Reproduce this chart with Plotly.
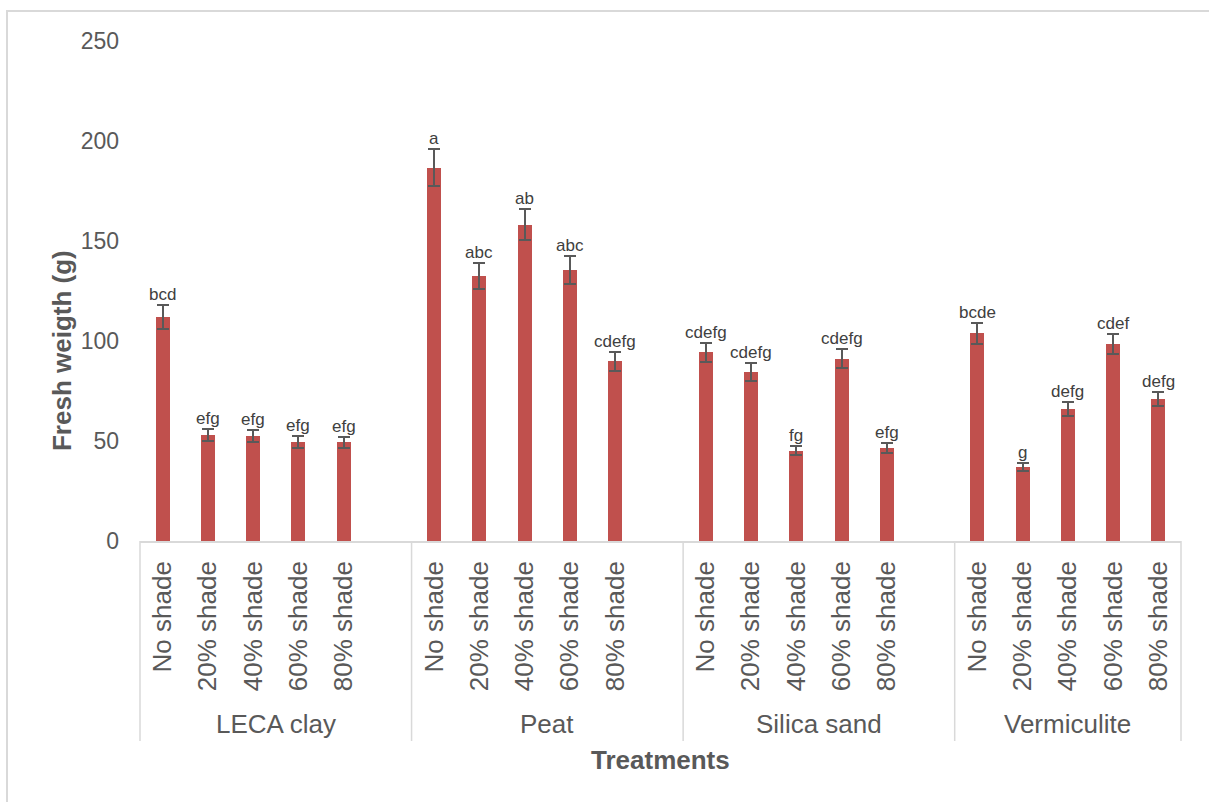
import plotly.graph_objects as go

# Substrates and shade levels
substrates = ["LECA clay", "Peat", "Silica sand", "Vermiculite"]
shades = ["No shade", "20% shade", "40% shade", "60% shade", "80% shade"]

# Mean fresh weight (g) per substrate, in shade order
leca_mean = [112.2, 52.8, 52.3, 49.5, 49.3]
peat_mean = [186.7, 132.5, 158.2, 135.5, 89.8]
silica_mean = [94.3, 84.5, 45.2, 91.2, 46.5]
verm_mean = [103.8, 37.0, 66.0, 98.5, 71.0]

# Standard errors
leca_err = [6.0, 3.0, 3.0, 2.8, 2.7]
peat_err = [9.3, 6.7, 7.8, 6.9, 4.8]
silica_err = [4.8, 4.4, 2.4, 4.8, 2.6]
verm_err = [5.3, 1.9, 3.4, 5.0, 3.6]

# Mean separation letters
leca_letters = ["bcd", "efg", "efg", "efg", "efg"]
peat_letters = ["a", "abc", "ab", "abc", "cdefg"]
silica_letters = ["cdefg", "cdefg", "fg", "cdefg", "efg"]
verm_letters = ["bcde", "g", "defg", "cdef", "defg"]

means = [leca_mean, peat_mean, silica_mean, verm_mean]
errs = [leca_err, peat_err, silica_err, verm_err]
letters = [leca_letters, peat_letters, silica_letters, verm_letters]

BAR = "#C0504D"
TXT = "#595959"
GRID = "#D9D9D9"
FONT = "Liberation Sans, Arial, sans-serif"

# Each substrate takes 6 slots (5 bars + an empty spacer), the last group has no spacer
SLOT = 6
xs, ys, es, labs, ticks_x, ticks_t = [], [], [], [], [], []
for g in range(len(substrates)):
    for s in range(len(shades)):
        x = g * SLOT + s
        xs.append(x)
        ys.append(means[g][s])
        es.append(errs[g][s])
        labs.append(letters[g][s])
        ticks_x.append(x)
        ticks_t.append(shades[s])

n_slots = SLOT * (len(substrates) - 1) + len(shades)
x_lo, x_hi = -0.5, n_slots - 0.5

fig = go.Figure()
fig.add_trace(go.Bar(
    x=xs, y=ys, width=0.31,
    marker=dict(color=BAR, line=dict(width=0)),
    error_y=dict(type="data", array=es, visible=True, color=TXT, thickness=2, width=6),
    showlegend=False, hoverinfo="y",
))

# Letters above the error bars
for x, y, e, t in zip(xs, ys, es, labs):
    fig.add_annotation(x=x, y=y + e, text=t, showarrow=False, yanchor="bottom",
                       xanchor="center", yshift=-1,
                       font=dict(family=FONT, size=17, color="#404040"))

# Group dividers and group labels beneath the category labels
def to_paper(xv):
    return (xv - x_lo) / (x_hi - x_lo)

bounds = [x_lo] + [g * SLOT + SLOT - 0.5 for g in range(len(substrates) - 1)] + [x_hi]
for b in bounds:
    fig.add_shape(type="line", xref="paper", yref="paper",
                  x0=to_paper(b), x1=to_paper(b), y0=0, y1=-0.4,
                  line=dict(color=GRID, width=1.5))
for g, name in enumerate(substrates):
    cx = (bounds[g] + bounds[g + 1]) / 2
    fig.add_annotation(xref="paper", yref="paper", x=to_paper(cx), y=-0.366,
                       text=name, showarrow=False, xanchor="center", yanchor="middle",
                       font=dict(family=FONT, size=26, color=TXT))

# Axis titles
fig.add_annotation(xref="paper", yref="paper", x=-0.0749, y=0.38, textangle=-90,
                   text="<b>Fresh weigth (g)</b>", showarrow=False,
                   xanchor="center", yanchor="middle",
                   font=dict(family=FONT, size=26, color=TXT))
fig.add_annotation(xref="paper", yref="paper", x=0.5, y=-0.438,
                   text="<b>Treatments</b>", showarrow=False,
                   xanchor="center", yanchor="middle",
                   font=dict(family=FONT, size=26, color=TXT))

# Chart area border
fig.add_shape(type="rect", xref="paper", yref="paper",
              x0=(7 - 140) / 1041, x1=1.05, y0=-0.6, y1=1.06,
              line=dict(color=GRID, width=2), fillcolor="rgba(0,0,0,0)")

fig.update_xaxes(range=[x_lo, x_hi], tickmode="array", tickvals=ticks_x, ticktext=ticks_t,
                 tickangle=-90, showgrid=False, zeroline=False, showline=True,
                 linecolor=GRID, linewidth=1.5, ticks="", ticklabelstandoff=8,
                 tickfont=dict(family=FONT, size=26, color=TXT))
fig.update_yaxes(range=[0, 250], tickvals=[0, 50, 100, 150, 200, 250],
                 showgrid=False, zeroline=False, showline=False, ticks="",
                 ticklabelstandoff=20,
                 tickfont=dict(family=FONT, size=23, color=TXT))

fig.update_layout(width=1209, height=802, margin=dict(l=140, r=28, t=41, b=261),
                  paper_bgcolor="white", plot_bgcolor="white", bargap=0)

fig.write_html("out.html")
